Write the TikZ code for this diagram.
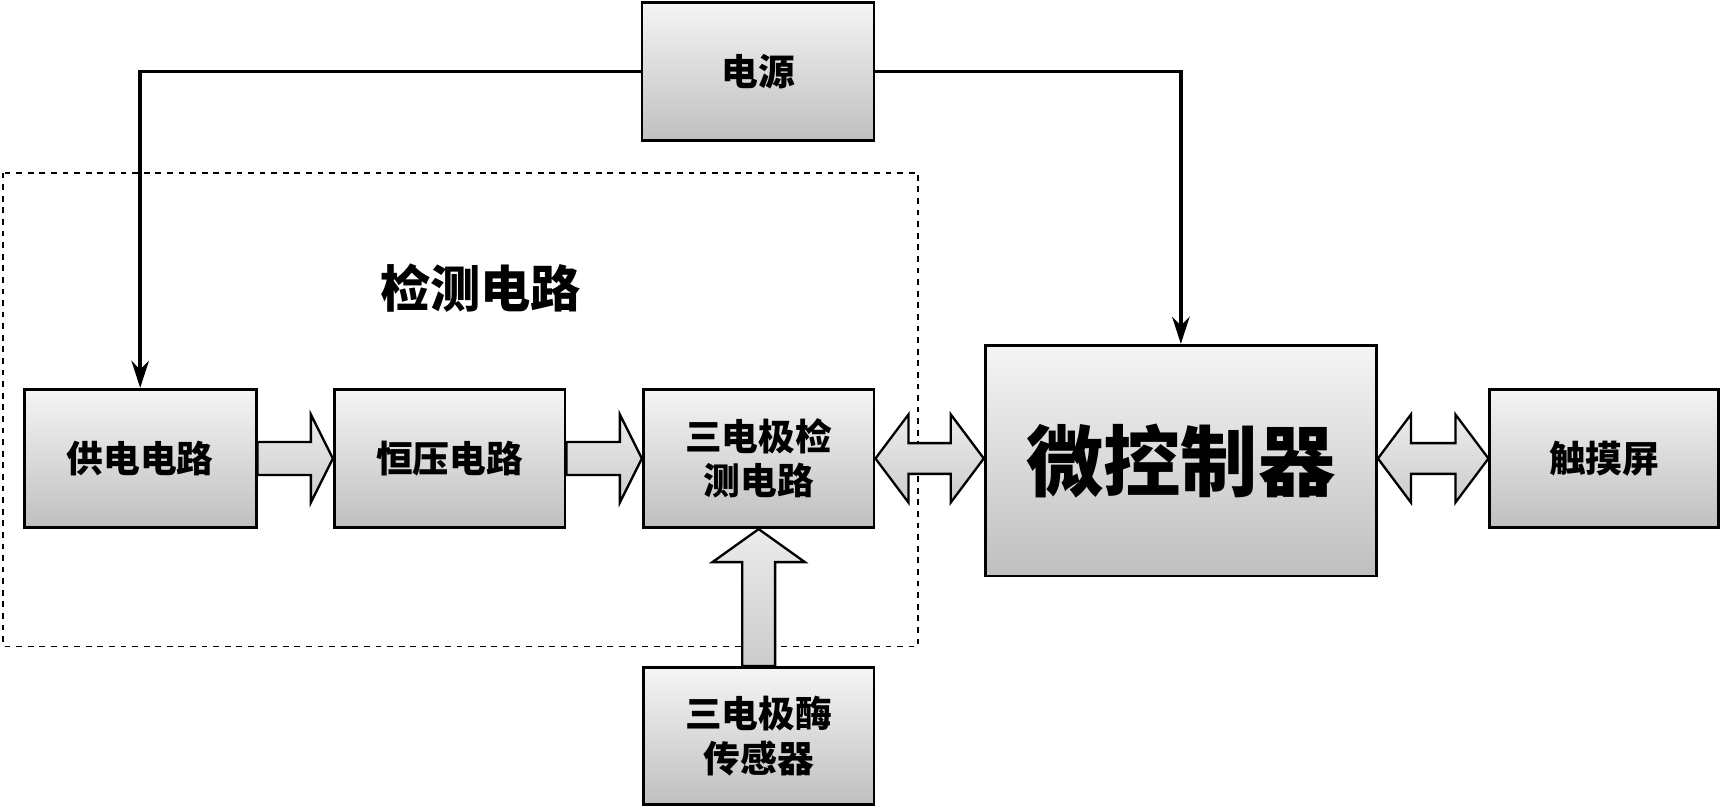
\documentclass[tikz,border=0pt]{standalone}
\usepackage{fontspec}
\setmainfont{Noto Sans CJK SC}
\usetikzlibrary{calc,arrows.meta}
\begin{document}
\begin{tikzpicture}[x=0.02cm,y=-0.02cm,
  box/.style={draw=black,line width=1.4pt,top color=gray!8,bottom color=gray!50,inner sep=0pt,font=\bfseries\fontsize{19}{23}\selectfont,align=center},
  fat/.style={draw=black,line width=1.2pt,top color=gray!15,bottom color=gray!40},
  wire/.style={line width=2pt,-{Stealth[length=14pt,width=9pt]}}]
\useasboundingbox (0,0) rectangle (1568,736);
\draw[dashed,line width=1pt] (3,157) rectangle (835,588);
\node[font=\bfseries\fontsize{26}{30}\selectfont] (lbl) at (437,262) {检测电路};
\node[box,minimum width=211*0.02cm,minimum height=126*0.02cm] (ps) at (689.5,65) {电源};
\node[box,minimum width=211*0.02cm,minimum height=126*0.02cm] (gd) at (127.5,417) {供电电路};
\node[box,minimum width=210*0.02cm,minimum height=126*0.02cm] (hy) at (409,417) {恒压电路};
\node[box,minimum width=210*0.02cm,minimum height=126*0.02cm] (sd) at (690,417) {三电极检\\测电路};
\node[box,minimum width=356*0.02cm,minimum height=210*0.02cm,font=\bfseries\fontsize{40}{44}\selectfont] (mc) at (1074,419) {微控制器};
\node[box,minimum width=208*0.02cm,minimum height=126*0.02cm] (tp) at (1459,417) {触摸屏};
\node[box,minimum width=210*0.02cm,minimum height=125*0.02cm] (se) at (690,669.5) {三电极酶\\传感器};
% wires
\draw[wire] (ps.west) -| (gd.north);
\draw[wire] (ps.east) -| (mc.north);
% fat arrows right
\foreach \a/\b in {gd/hy,hy/sd}{
 \path let \p1=(\a.east),\p2=(\b.west) in
  [fat] (\x1,\y1+15*0.02cm) -- (\x2-20*0.02cm,\y1+15*0.02cm) -- (\x2-20*0.02cm,\y1+40*0.02cm) -- (\x2,\y1) -- (\x2-20*0.02cm,\y1-40*0.02cm) -- (\x2-20*0.02cm,\y1-15*0.02cm) -- (\x1,\y1-15*0.02cm) -- cycle;}
% double arrows
\foreach \a/\b in {sd/mc,mc/tp}{
 \path let \p1=(\a.east),\p2=(\b.west) in
  [fat] (\x1,417*-0.02cm) -- (\x1+30*0.02cm,377*-0.02cm) -- (\x1+30*0.02cm,403*-0.02cm) -- (\x2-30*0.02cm,403*-0.02cm) -- (\x2-30*0.02cm,377*-0.02cm) -- (\x2,417*-0.02cm) -- (\x2-30*0.02cm,457*-0.02cm) -- (\x2-30*0.02cm,431*-0.02cm) -- (\x1+30*0.02cm,431*-0.02cm) -- (\x1+30*0.02cm,457*-0.02cm) -- cycle;}
% up arrow
\path let \p1=(se.north),\p2=(sd.south) in
 [fat] (\x1-15*0.02cm,\y1) -- (\x1-15*0.02cm,\y2-30*0.02cm) -- (\x1-42*0.02cm,\y2-30*0.02cm) -- (\x1,\y2) -- (\x1+42*0.02cm,\y2-30*0.02cm) -- (\x1+15*0.02cm,\y2-30*0.02cm) -- (\x1+15*0.02cm,\y1) -- cycle;
\end{tikzpicture}
\end{document}
